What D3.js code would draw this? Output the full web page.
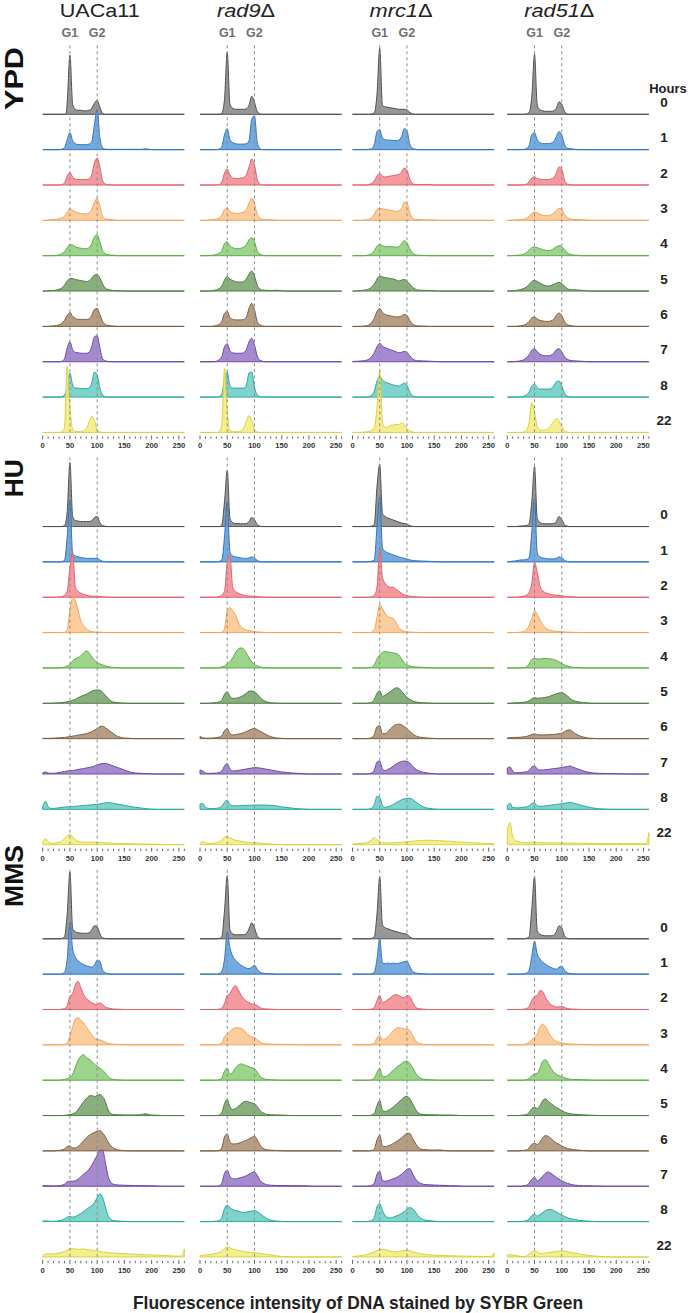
<!DOCTYPE html>
<html><head><meta charset="utf-8">
<script src="https://cdn.jsdelivr.net/npm/d3@7"></script>
<style>
html,body{margin:0;padding:0;background:#fff;}
svg{display:block;font-family:"Liberation Sans",Arial,sans-serif;}
</style></head>
<body>
<svg id="chart" width="690" height="1313"></svg>
<script>
// ---------- categories ----------
const treatments = ["YPD", "HU", "MMS"];
const strains = ["UACa11", "rad9", "mrc1", "rad51"];
const hours = ["0", "1", "2", "3", "4", "5", "6", "7", "8", "22"];
const xTicks = [0, 50, 100, 150, 200, 250];
const markers = [{label: "G1", x: 50}, {label: "G2", x: 100}];
const axisTitle = "Fluorescence intensity of DNA stained by SYBR Green";

// ---------- series: "intensity:relative cell count" per hour ----------
const ypd_UACa11 = [
"40:0 43:1 45:12 50:59 55:10 60:5 65:4 70:4 75:3.5 80:3.5 85:4 90:6 95:11 100:14 105:7 110:1 115:0",
"30:0 35:0.5 40:2 45:10 50:17 55:9 60:6 65:5 70:5 75:5 80:5 85:5.5 90:8 95:25 100:40 105:12 110:2 115:0.5 120:0.3 180:0.3 190:0.8 200:0",
"30:0 35:0.5 40:2 45:9 50:12.5 55:8 60:6 65:5.5 70:5.5 75:5.5 80:5.5 85:6 90:10 95:22 100:27 105:18 110:4 115:1 120:0.3 130:0",
"5:0 10:0.3 15:0.5 20:0.8 25:1 30:1.5 35:2.5 40:4 45:8 50:11.5 55:10 60:8.5 65:7.5 70:7 75:6.5 80:6.5 85:7.5 90:11 95:18 100:22 105:14 110:4 115:1.5 120:1 130:0.5 140:0",
"20:0 25:0.3 30:0.8 35:2 40:4 45:8 50:11 55:10.5 60:9 65:8 70:7.5 75:7 80:7 85:8 90:12 95:19 100:21 105:14 110:5 115:2 120:1 130:0.5 140:0",
"5:0 10:0.3 20:0.6 25:1 30:1.8 35:3 40:6 45:10 50:12.5 55:12.5 60:11.5 65:11 70:10.5 75:10 80:9.5 85:10 90:13 95:16 100:16.5 105:13 110:7 115:3 120:1.5 125:1 130:0.5 140:0.3 150:0",
"10:0 15:0.3 20:0.5 25:0.8 30:1.5 35:3 40:6 45:11 50:14 55:10 60:8 65:7 70:7 75:7 80:7 85:7.5 90:11 95:17 100:18 105:12 110:5 115:2 120:1 130:0.4 140:0",
"30:0 35:0.5 40:3 45:14 50:20 55:12 60:9.5 65:9 70:8.5 75:8.5 80:8.5 85:9.5 90:15 95:25 100:26 105:14 110:3 115:1 120:0.3 130:0",
"30:0 35:0.5 40:2 45:10 50:24 55:12 60:9 65:9 70:8.5 75:8.5 80:8.5 85:9 90:14 95:25 100:22 105:9 110:2 115:0.5 120:0",
"30:0 35:0.5 40:5 45:66 50:25 55:3 60:1 65:0.7 70:0.8 75:1.5 80:4 85:10 90:16.5 95:12 100:3 105:0.5 110:0"
];
const ypd_rad9 = [
"35:0 40:1 45:15 50:62 55:10 60:6 65:5 70:5 75:5 80:5 85:5.5 90:9 95:18 100:12 105:3 110:0.5 115:0",
"30:0 35:0.5 40:3 45:15 50:21 55:10 60:7 65:6 70:5.5 75:5.5 80:5.5 85:6 90:9 95:30 100:34 105:8 110:1 115:0",
"30:0 35:0.5 40:3 45:12 50:16 55:10 60:7 65:6.5 70:6.5 75:7 80:7.5 85:10 90:18 95:26 100:20 105:6 110:1 115:0",
"10:0 15:0.3 20:0.5 25:0.8 30:1.2 35:2.5 40:5 45:11 50:12.5 55:9 60:7.5 65:7 70:7 75:7.5 80:8.5 85:11 90:17 95:22 100:17 105:6 110:2 115:1 120:0.7 130:0.5 140:0.3 150:0",
"15:0 20:0.3 25:0.6 30:1.2 35:2.5 40:5 45:12 50:14 55:10 60:8 65:7 70:7 75:7.5 80:8.5 85:11 90:16 95:18 100:14 105:5 110:1.5 115:0.5 120:0",
"15:0 20:0.3 25:0.6 30:1.2 35:2.5 40:5 45:11 50:14.5 55:12 60:10.5 65:9.5 70:9 75:9 80:9.5 85:12 90:17 95:20 100:15 105:6 110:2 115:1 120:0.8 130:0.6 140:0.8 150:0.3 160:0",
"20:0 25:0.3 30:0.8 35:2 40:5 45:13 50:15 55:9 60:7 65:6.5 70:6.5 75:6.5 80:7 85:9 90:18 95:23 100:17 105:5 110:1.5 115:0.5 120:0",
"25:0 30:0.5 35:2 40:5 45:15 50:18 55:11 60:9 65:8.5 70:8.5 75:8.5 80:9 85:12 90:20 95:23.5 100:17 105:6 110:1.5 115:0.5 120:0",
"30:0 35:0.5 40:3 45:18 50:25 55:11 60:9 65:9 70:9 75:9 80:9 85:12 90:24 95:25 100:10 105:2 110:0.5 115:0",
"30:0 35:0.5 40:8 45:64 50:20 55:2 60:0.8 65:0.6 70:0.7 75:1.5 80:4 85:11 90:17 95:12 100:3 105:0.5 110:0"
];
const ypd_mrc1 = [
"30:0 35:0.3 40:1.5 45:20 50:66 55:9 60:7.5 65:7 70:6.5 75:6 80:5.5 85:5 90:5 95:5 100:4.5 105:2 110:0.5 115:0",
"25:0 30:0.3 35:1 40:5 45:18 50:20 55:12 60:10 65:9.5 70:9.5 75:9 80:9 85:9.5 90:13 95:21 100:19 105:6 110:1.5 115:0.5 120:0",
"25:0 30:0.5 35:1.5 40:4 45:9 50:11.5 55:9 60:8 65:8.5 70:9 75:9.5 80:10 85:10.5 90:13 95:17 100:15 105:6 110:1.5 115:0.5 120:0.4 140:0.6 150:0",
"15:0 20:0.3 25:0.6 30:1 35:2.5 40:6 45:11 50:12 55:11.5 60:11 65:10.5 70:10 75:9.5 80:9 85:9.5 90:12 95:18 100:17 105:8 110:2.5 115:1 120:0.7 130:0.5 140:0.4 150:0.3 160:0",
"20:0 25:0.3 30:0.8 35:2 40:5 45:9.5 50:11 55:10 60:9 65:9 70:9 75:9 80:8.5 85:9 90:12 95:15 100:13 105:7 110:3 115:1 120:0.5 130:0.3 140:0",
"5:0 10:0.3 20:0.8 25:1.2 30:2 35:4 40:7 45:12 50:15 55:14 60:13.5 65:13 70:12.5 75:12 80:11 85:10 90:11 95:11.5 100:10 105:7 110:4 115:2 120:1 130:0.7 140:0.6 150:0.3 160:0",
"15:0 20:0.3 25:0.6 30:1.5 35:4 40:8 45:15 50:18 55:14 60:12 65:11 70:10.5 75:10 80:9.5 85:9.5 90:10.5 95:12 100:11 105:6 110:2.5 115:1 120:0.5 130:0.3 140:0",
"0:0.3 10:0.5 20:1 25:1.5 30:2.5 35:5 40:9 45:15 50:18.5 55:15.5 60:14 65:13 70:12 75:11 80:10 85:9 90:9.5 95:10.3 100:9.5 105:6 110:3 115:1.5 120:1 130:0.8 140:0.6 150:0.3 160:0",
"25:0 30:0.5 35:2 40:6 45:16 50:20.5 55:17 60:15 65:14 70:13 75:12 80:11.5 85:11 90:12.5 95:14 100:12 105:5 110:1.5 115:0.5 120:0",
"15:0 20:0.3 25:0.5 30:1 35:2 40:5 45:25 50:62 55:10 60:5 65:5.5 70:7 75:7.5 80:8 85:8 90:9.5 95:8 100:4 105:1.5 110:0.5 115:0"
];
const ypd_rad51 = [
"30:0 35:0.3 40:2 45:18 50:60 55:9 60:4.5 65:3.5 70:3 75:3 80:3 85:3.5 90:6 95:12.5 100:10 105:3 110:0.5 115:0",
"25:0 30:0.3 35:1 40:4 45:15 50:17 55:10 60:7 65:6 70:6 75:6 80:6.5 85:8 90:13 95:18 100:15 105:5 110:1.5 115:1 120:0.7 125:0.3 130:0",
"25:0 30:0.3 35:1 40:3 45:7 50:8.3 55:6.5 60:6 65:5.5 70:5.5 75:5.5 80:6 85:7 90:12 95:18 100:16 105:5 110:1 115:0.3 120:0",
"5:0 10:0.3 20:0.5 25:0.8 30:1 35:2 40:4 45:7 50:8.3 55:7.5 60:6 65:5 70:4.7 75:4.7 80:5.5 85:7 90:10 95:12 100:11 105:6 110:3 115:1.5 120:1 130:0.7 140:0.6 150:0",
"5:0 10:0.2 20:0.5 25:0.8 30:1.5 35:3 40:5.5 45:8 50:8.7 55:8 60:7 65:6 70:5.5 75:5 80:5.5 85:7 90:9 95:10 100:9 105:6 110:3 115:1.5 120:0.8 130:0.4 140:0",
"5:0 10:0.3 15:0.5 20:1 25:1.5 30:2.5 35:4 40:6.5 45:9.5 50:10.7 55:9.5 60:8 65:6.5 70:5.5 75:5 80:5.5 85:6.5 90:8 95:8.7 100:7.5 105:5 110:2.5 115:1.5 120:1.2 130:1 140:0.6 150:0",
"15:0 20:0.3 25:0.6 30:1.2 35:2.5 40:5 45:8.5 50:9.3 55:7.5 60:6 65:5.5 70:5 75:5 80:5.5 85:7 90:11 95:13.3 100:11 105:5 110:2 115:1 120:0.5 130:0",
"10:0 15:0.3 20:0.5 25:1 30:2 35:4 40:7 45:11.5 50:13 55:10 60:7.5 65:6.5 70:6 75:6 80:6.5 85:8.5 90:12 95:13 100:10 105:5 110:2.5 115:1.5 120:1 130:0.7 140:0.4 150:0",
"20:0 25:0.3 30:0.8 35:2 40:5 45:11 50:13 55:9.5 60:8 65:8 70:8 75:8 80:8.5 85:11 90:15.5 95:16 100:11 105:4 110:1 115:0.3 120:0",
"25:0 30:0.5 35:2 40:10 45:30 50:20 55:6 60:2.5 65:2 70:2.5 75:4 80:7 85:11 90:14 95:12 100:6 105:1.5 110:0.3 115:0"
];
const hu_UACa11 = [
"35:0 40:1 45:15 50:64 55:10 60:6 65:5.5 70:5 75:5 80:5 85:5 90:6 95:9 100:10 105:4 110:1 115:0.3 120:0",
"30:0 35:0.3 40:1.5 45:25 50:62 55:8 60:6 65:5 70:4.5 75:4 80:3.5 85:3.5 90:3.5 95:3.5 100:4 105:2 110:0.7 115:0.3 120:0",
"25:0 30:0.3 35:0.7 40:2 45:6 50:30 55:45 60:10 65:6 70:4 75:3 80:2 85:1.5 90:1 95:1 100:1 105:0.7 110:0.5 115:0.3 120:0",
"35:0 40:0.5 45:3 50:22 55:35 60:32 65:22 70:12 75:7 80:4 85:2 90:1 95:0.7 100:0.5 110:0.3 120:0",
"30:0 35:0.3 40:0.8 45:2 50:3.5 55:7 60:9 65:10.5 70:12 75:15 80:17 85:15.5 90:11 95:8 100:5.5 105:4 110:3 115:2 120:1.3 125:0.8 130:0.5 140:0.2 150:0",
"10:0 20:0.2 30:0.5 40:1 45:1.5 50:2 55:3 60:4 65:5.5 70:7 75:8 80:9 85:10.5 90:12 95:13 100:13.3 105:13 110:11 115:8 120:5 125:2.5 130:1.2 140:0.5 150:0.2 160:0",
"0:0.3 10:0.3 20:0.5 30:0.8 40:1.2 50:2 60:3 70:4 80:5 90:7 95:8.5 100:10 105:12 110:12.5 115:11 120:9 125:7 130:5 135:3 140:1.8 145:1 150:0.6 160:0.3 170:0",
"0:1 5:2 10:1 15:0.7 20:0.7 25:1 30:1.5 35:2 40:2.5 45:3 50:3.5 55:3.5 60:4 65:4.5 70:5 75:5.5 80:6 85:6.5 90:7 95:8 100:9 105:10 110:10.5 115:10.5 120:10 125:9 130:8 135:7 140:6 145:5 150:4 155:3 160:2 165:1.5 170:1 180:0.7 190:0.4 200:0.2 210:0",
"0:3 5:8 10:3 15:1 20:1 25:1.2 30:1.5 35:2 40:2.2 45:2.5 50:2.7 55:2.8 60:3 65:3.2 70:3.5 75:3.8 80:4 85:4.3 90:4.5 95:4.8 100:5 105:5.5 110:6 115:6.5 120:6.7 125:6.5 130:6 135:5.5 140:5 145:4.5 150:4 155:3.5 160:3 165:2.5 170:2 175:1.7 180:1.4 185:1 190:0.6 195:0.4 200:0.2 210:0",
"0:2 5:6 10:3 15:1.5 20:1.5 25:2 30:2.5 35:3.5 40:6 45:9 50:10 55:8 60:5 65:3.5 70:3 75:2.5 80:2.5 90:2.5 100:2.5 110:2 120:1.8 130:1.5 140:1.3 150:1.1 160:1 170:0.8 180:0.7 190:0.6 200:0.5 210:0.4 220:0.3 240:0.2 255:0.2 260:0"
];
const hu_rad9 = [
"35:0 40:1.5 45:25 50:56 55:8 60:4 65:3 70:3 75:2.8 80:2.8 85:3 90:5 95:9 100:7 105:2 110:0.5 115:0",
"30:0 35:0.5 40:2 45:25 50:60 55:10 60:6 65:5 70:4.5 75:4 80:3.5 85:3.5 90:4 95:5 100:4 105:1.5 110:0.5 115:0",
"25:0 30:0.3 35:0.7 40:2 45:6 50:35 55:42 60:10 65:6 70:4 75:3 80:2 85:1.5 90:1.2 95:1 100:1 105:0.7 110:0.4 120:0",
"35:0 40:0.5 45:4 50:22 55:25 60:22 65:18 70:11 75:6 80:4 85:2.5 90:2 95:1.3 100:1 105:0.7 110:0.4 120:0.2 130:0",
"30:0 35:0.3 40:1 45:2 50:4 55:6.5 60:10 65:15 70:19 75:20 80:19 85:15 90:10 95:6 100:3.5 105:2 110:1 115:0.5 120:0.2 130:0",
"15:0 20:0.3 30:0.7 35:1.5 40:3 45:9 50:11.5 55:7 60:5 65:5 70:5.5 75:6.5 80:8 85:10 90:12 95:12.3 100:11.5 105:9 110:6 115:3.5 120:2 125:1 130:0.5 140:0.2 150:0",
"0:2 5:1 10:0.5 20:0.5 30:1 35:1.5 40:3 45:8 50:10 55:5 60:3.7 65:4 70:4.5 75:5 80:6 85:7 90:8.5 95:9.5 100:10.3 105:9 110:7.5 115:6 120:4.5 125:3 130:2 135:1.2 140:0.7 150:0.3 160:0",
"0:4 5:3 10:1 15:0.7 20:0.7 25:0.8 30:1 35:1.5 40:3 45:8 50:10.5 55:5 60:3 65:3.2 70:3.5 75:4 80:4.5 85:5 90:5.5 95:6 100:6.3 105:6.3 110:6 115:5.5 120:5 125:4.5 130:4 135:3.5 140:3 145:2.5 150:2 160:1.5 170:1 180:0.6 190:0.3 200:0",
"0:5 5:6 10:2 15:1 20:0.8 25:0.8 30:1 35:1.5 40:3 45:7 50:9 55:5 60:3.5 65:3.5 70:3.5 75:3.8 80:4 90:4 95:4.2 100:4.3 120:4.3 125:4.2 130:4 135:3.8 140:3.5 145:3 150:2.5 160:1.8 170:1.2 180:0.6 190:0.3 200:0",
"0:1.5 5:3 10:2 15:1 20:1 25:1.5 30:2 35:3 40:5 45:7.5 50:8 55:7 60:5.5 65:4.5 70:4 75:3.5 80:3 85:2.5 90:2.2 95:2 100:2 110:1.5 120:1 130:0.6 140:0.3 150:0.2 160:0"
];
const hu_mrc1 = [
"30:0 35:0.5 40:2 45:40 50:62 55:13 60:10 65:8.5 70:7.5 75:6.5 80:5.5 85:4.5 90:3.5 95:3 100:2.5 105:1 110:0.3 115:0",
"25:0 30:0.3 35:0.7 40:2 45:35 50:65 55:14 60:10.5 65:9 70:8 75:7 80:6 85:5 90:4.2 95:3.5 100:2.8 105:2 110:1.5 115:1.2 120:1 130:0.8 140:0.6 150:0.3 160:0",
"30:0 35:0.5 40:2 45:10 50:50 55:20 60:14 65:11 70:10 75:10 80:8 85:6 90:4 95:2.5 100:2 105:1 110:0.5 120:0.3 130:0",
"30:0 35:0.5 40:3 45:15 50:28 55:24 60:19 65:16 70:15 75:14 80:10 85:5 90:2.5 95:1.3 100:0.8 110:0.4 120:0.2 130:0",
"25:0 30:0.3 35:0.8 40:3 45:9 50:13 55:15.5 60:16.3 65:16 70:15.5 75:15 80:14.5 85:13 90:9 95:5 100:3 105:2 110:1.3 115:1 120:0.8 130:0.5 140:0.2 150:0",
"25:0 30:0.3 35:1 40:4 45:10 50:12.5 55:7 60:8 65:10 70:12 75:14 80:15.5 85:15 90:12 95:9 100:6 105:4 110:2.5 115:1.5 120:1 130:0.6 140:0.3 150:0",
"25:0 30:0.3 35:1 40:4 45:12 50:13 55:5 60:5 65:7 70:10 75:12.5 80:14 85:14.5 90:14 95:12 100:10 105:7.5 110:5 115:3 120:2 125:1.3 130:1 140:0.5 150:0.2 160:0",
"25:0 30:0.3 35:1 40:4 45:12 50:13 55:5 60:3.5 65:4.5 70:6 75:8 80:10 85:11.5 90:12.5 95:13 100:12.5 105:11 110:8 115:5.5 120:3.5 125:2.5 130:1.7 140:0.8 150:0.3 160:0",
"25:0 30:0.3 35:1 40:5 45:13 50:12 55:4 60:2 65:2.5 70:3.5 75:5 80:6.5 85:8 90:9.5 95:10.5 100:11 105:11 110:10 115:8 120:6 125:4 130:2.5 135:1.5 140:1 150:0.3 160:0",
"0:0.5 10:1 20:1.5 25:2 30:3 35:5 40:7 45:5 50:3 55:2 60:1.8 70:1.8 80:2 90:2.5 100:3 110:3.5 120:4 130:4.3 140:4.5 150:4.3 160:4 170:3.7 180:3.4 190:3 200:2.7 210:2.4 220:2 230:1.7 240:1.4 250:1.2 260:1"
];
const hu_rad51 = [
"15:0 20:0.3 30:0.7 35:1 40:3 45:25 50:60 55:8 60:4 65:3 70:2.7 75:2.7 80:2.7 85:3 90:5 95:10 100:7 105:2 110:0.5 115:0",
"0:0 5:0.3 10:0.7 15:1 20:1.5 25:2 30:2 35:2.5 40:4 45:30 50:63 55:9 60:5 65:4 70:3.5 75:3 80:3 85:3 90:3.5 95:5 100:4.5 105:1.5 110:0.5 115:0",
"15:0 20:0.3 25:0.6 30:1 35:2 40:5 45:14 50:35 55:25 60:11 65:6.5 70:4.5 75:3.5 80:2.8 85:2.3 90:2 95:1.7 100:1.5 105:1 110:0.5 120:0.3 130:0",
"15:0 20:0.2 25:0.5 30:1 35:3 40:7 45:14 50:22 55:18 60:13 65:8 70:5 75:3 80:2 85:1.5 90:1.2 95:1 100:0.8 110:0.5 120:0.3 130:0.2 140:0",
"25:0 30:0.3 35:1 40:4 45:8.5 50:9.7 55:9 60:9 65:9.3 70:9.5 75:9.2 80:9 85:8.5 90:7.5 95:6 100:4.5 105:3 110:2 115:1.2 120:0.7 130:0.3 140:0",
"5:0 10:0.3 20:0.5 25:0.8 30:1 35:1.5 40:2.5 45:4.5 50:5.7 55:5 60:5.2 65:5.5 70:6 75:6.5 80:7.5 85:8.5 90:9.5 95:10.3 100:10.7 105:9.5 110:7.5 115:5 120:3 125:2 130:1.5 135:1 140:0.8 145:0.5 150:0.2 160:0",
"0:0.7 5:1 10:1.2 15:1.2 20:1.3 25:1.5 30:1.8 35:2.2 40:3 45:4.2 50:4.7 55:4 60:3.7 65:3.7 70:3.8 75:4 80:4 85:4.2 90:4.5 95:5 100:5.5 105:7 110:8.5 115:8.7 120:7 125:5 130:3.5 135:2.3 140:1.5 145:1 150:0.5 160:0.2 170:0",
"0:6 5:7 10:3 15:1.3 20:1.3 25:1.5 30:1.8 35:2.3 40:3.5 45:7 50:8 55:5 60:4 65:4 70:4.3 75:4.5 80:5 85:5.3 90:5.7 95:6 100:6.5 105:7 110:7.5 115:8 120:7 125:6 130:5 135:4 140:3 145:2.3 150:1.6 155:1.2 160:0.9 170:0.6 180:0.5 190:0.4 200:0.3 210:0.2 220:0",
"0:4 5:6 10:2 15:1.5 20:1.5 25:1.7 30:2 35:2.5 40:3.5 45:6 50:6.5 55:3.5 60:3 65:3.2 70:3.5 75:3.8 80:4.2 85:4.5 90:5 95:5.3 100:5.7 105:6 110:6.5 115:7 120:6.5 125:5.8 130:5 135:4.2 140:3.5 145:2.8 150:2.2 155:1.6 160:1.2 165:0.8 170:0.5 180:0.2 190:0",
"0:15 5:22 10:8 15:4 20:3 25:2.5 30:2.2 40:2 45:2.5 50:3 55:2.3 60:2 80:1.8 100:1.6 120:1.5 140:1.4 160:1.3 180:1.2 200:1.1 220:1 240:1 255:1 260:12"
];
const mms_UACa11 = [
"30:0 35:0.3 40:2 45:25 50:67 55:10 60:7 65:6 70:5.7 75:5.5 80:5.5 85:6 90:9 95:13 100:12 105:5 110:1 115:0.3 120:0",
"30:0 35:0.3 40:2 45:15 50:52 55:25 60:17 65:13.5 70:11 75:9.5 80:8.5 85:7.5 90:7 95:9 100:14 105:13 110:4 115:1.5 120:0.5 130:0",
"30:0 35:0.3 40:1 45:4 50:13 55:16 60:25 65:28 70:22 75:15 80:11 85:8.5 90:7 95:5.5 100:5 105:6.7 110:5 115:2.5 120:1.5 125:1 130:0.5 140:0.3 150:0",
"35:0 40:0.5 45:2 50:9 55:18 60:26 65:27 70:25 75:22 80:18 85:14 90:10 95:7 100:5.5 105:5 110:4 115:2.5 120:1.5 125:1 130:0.7 140:0.4 150:0.3 160:0",
"30:0 35:0.3 40:0.8 45:1.5 50:3 55:6 60:13 65:20 70:24 75:25.5 80:23 85:21 90:19 95:16 100:14 105:12 110:10 115:7 120:3.5 125:1.5 130:0.7 140:0.3 150:0",
"35:0 40:0.3 45:0.5 50:1 55:1.7 60:3 65:6 70:10 75:14 80:17 85:19.5 90:20 95:19 100:20 105:21 110:19 115:14 120:6 125:2 130:1 140:0.7 150:0.6 170:0.6 180:0.8 185:1.5 190:1.7 195:0.8 200:0.5 210:0.3 220:0",
"20:0 25:0.3 30:0.5 35:1 40:2 45:4.5 50:5 55:3 60:3 65:4.5 70:7 75:10 80:13 85:15.5 90:17 95:18.5 100:19.5 105:20.3 110:18 115:14 120:9 125:5 130:3 135:1.5 140:0.8 145:0.5 150:0.2 160:0",
"0:0.5 10:0.5 20:0.3 30:0.5 35:1 40:2 45:4.5 50:5 55:5 60:5.5 65:7 70:9.5 75:12 80:14 85:17 90:21 95:26 100:31 105:36 110:36 115:24 120:10 125:4 130:2 135:1.5 140:1.2 150:1 160:0.8 170:0.7 180:0.6 190:0.5 200:0.4 210:0.3 220:0",
"0:0.5 5:0.8 10:0.5 15:0.3 20:0.3 25:0.5 30:0.8 35:1.5 40:2.5 45:4.5 50:5 55:4.5 60:5 65:6.5 70:8 75:10 80:12 85:14 90:16 95:19 100:24 105:27.7 110:24 115:15 120:6 125:2.5 130:1 140:0.5 150:0.3 160:0",
"0:1 5:3 10:3.3 15:3 20:3.2 25:3.5 30:4 35:4.5 40:5.5 45:7 50:8 55:8.3 60:8 65:7.5 70:7.8 75:8 80:7.5 85:7 90:6.8 95:6.5 100:6 105:5.5 110:5 115:4.7 120:4.3 125:4 130:3.8 140:3.5 150:3.2 160:3 170:2.7 180:2.5 190:2.2 200:2 210:1.8 220:1.5 230:1.2 240:1 250:0.8 255:1 260:8"
];
const mms_rad9 = [
"30:0 35:0.3 40:2 45:28 50:63 55:9 60:5 65:4 70:4 75:4 80:4 85:5 90:10 95:16 100:11 105:3 110:0.5 115:0",
"30:0 35:0.5 40:3 45:15 50:42 55:26 60:18 65:14 70:11.5 75:9 80:7.5 85:6 90:5.5 95:7 100:9 105:5 110:2 115:1 120:0.6 130:0.3 140:0",
"30:0 35:0.3 40:1.5 45:6 50:14 55:16 60:21 65:24 70:20 75:15 80:11 85:8.5 90:7 95:5.5 100:5 105:4 110:2 115:1 120:0.6 130:0.3 140:0",
"30:0 35:0.5 40:2 45:8 50:10.5 55:13 60:16 65:17 70:17 75:16.5 80:15 85:12 90:9.5 95:8 100:7.3 105:5 110:3 115:1.5 120:1 130:0.7 140:0.6 150:0.5 160:0.4 170:0.3 180:0.2 190:0",
"30:0 35:0.5 40:2 45:9 50:12 55:6 60:8 65:12 70:15 75:16.3 80:15.5 85:14.5 90:13.5 95:12.5 100:11.5 105:8 110:4 115:2 120:1 130:0.5 140:0.2 150:0",
"30:0 35:0.5 40:3 45:12 50:16 55:9 60:6 65:7 70:9 75:11.5 80:13.5 85:14.3 90:13.5 95:12.5 100:12 105:9 110:5 115:3 120:1.5 125:1 130:0.8 140:0.6 150:0.5 160:0.2 170:0",
"30:0 35:0.5 40:3 45:14 50:17 55:9 60:7 65:7 70:7.5 75:8.5 80:9.5 85:10.5 90:12 95:13.5 100:15 105:11 110:6 115:3 120:1.5 125:1 130:0.7 140:0.4 150:0.2 160:0",
"30:0 35:0.5 40:3 45:13 50:16 55:10 60:7.5 65:7.3 70:8 75:8.5 80:9.5 85:10.5 90:12 95:13.5 100:14.3 105:11 110:6 115:3.5 120:2 125:1.3 130:1 140:0.8 150:0.7 170:0.6 190:0.5 200:0.3 210:0",
"20:0 25:0.3 30:0.5 35:1 40:4 45:13 50:16.5 55:14 60:12 65:11 70:10.5 75:9.5 80:9 85:9.5 90:10 95:10.5 100:11 105:10 110:8 115:6 120:4 125:2.5 130:1.5 140:0.6 150:0.2 160:0",
"0:1 5:1.5 10:2 15:2.3 20:2.5 25:3 30:3.5 35:4.5 40:6 45:8.5 50:10 55:9 60:8 65:7.2 70:6.5 75:6 80:5.5 85:5 90:4.8 95:4.5 100:4.3 105:4 110:3.6 115:3.2 120:2.8 125:2.5 130:2 135:1.6 140:1.2 145:0.8 150:0.5 160:0.2 170:0"
];
const mms_mrc1 = [
"30:0 35:0.5 40:2 45:25 50:62 55:14 60:11 65:10 70:9 75:8 80:7.3 85:6.5 90:5.7 95:5 100:4.7 105:2 110:0.5 115:0",
"30:0 35:0.5 40:2 45:15 50:36 55:11 60:10.5 65:11 70:10.5 75:11 80:10.5 85:11 90:11.5 95:12.5 100:12.7 105:8 110:3 115:1.5 120:0.8 130:0.3 140:0",
"30:0 35:0.5 40:2 45:9 50:14 55:7 60:8 65:10 70:12 75:14 80:15 85:14 90:12.5 95:12 100:14 105:13 110:8 115:3 120:1 130:0.4 140:0",
"30:0 35:0.5 40:2 45:7 50:9.5 55:5 60:6 65:8 70:11 75:14 80:16.5 85:17.3 90:16.5 95:16 100:15.5 105:14.5 110:10 115:5 120:2 125:1 130:0.5 140:0.2 150:0",
"30:0 35:0.5 40:2 45:8 50:12 55:4 60:3.5 65:5 70:7.5 75:10 80:12.5 85:14.5 90:16.5 95:18.5 100:19 105:17 110:13 115:8 120:4 125:2 130:1 140:0.5 150:0.2 160:0",
"30:0 35:0.5 40:2 45:10 50:15 55:5 60:4 65:5 70:6.5 75:8.5 80:11 85:13.5 90:16 95:18.5 100:19.3 105:17 110:12 115:7 120:3 125:1.5 130:1 140:0.8 150:0.7 160:0.6 170:0.5 180:0.5 190:0.3 200:0",
"30:0 35:0.5 40:2 45:11 50:16 55:5 60:4.3 65:5 70:6 75:7.5 80:9 85:11 90:13 95:15.5 100:17.5 105:17.5 110:13 115:8 120:4 125:2 130:1.3 140:1 150:0.8 160:1 170:0.3 180:0",
"25:0 30:0.3 35:1 40:3 45:12 50:15 55:6 60:5 65:5.5 70:6.5 75:7.5 80:8.5 85:10 90:12 95:14.5 100:17 105:17.7 110:13 115:8 120:4.5 125:3 130:2 140:1.5 150:1.2 160:1 170:0.8 180:0.6 190:0.4 200:0.2 210:0",
"25:0 30:0.3 35:1 40:4 45:15 50:18 55:11 60:6 65:4 70:3.5 75:4.5 80:5.5 85:6.5 90:8 95:10 100:12.5 105:14 110:13 115:10 120:6 125:3.5 130:2 140:1 150:0.4 160:0",
"0:0.5 10:1 15:1.3 20:1.7 25:2.3 30:3 35:4 40:5 45:6.5 50:7.3 55:7.7 60:7.3 65:6.5 70:5.8 75:5.3 80:5 85:5.3 90:6 95:6.5 100:6.7 105:6.3 110:5.5 115:4.5 120:3.8 125:3.2 130:2.8 140:2.2 150:1.8 160:1.5 170:1.3 180:1.2 190:1 200:0.9 210:0.8 220:0.7 230:0.6 240:0.5 250:0.5 255:0.8 260:4"
];
const mms_rad51 = [
"30:0 35:0.5 40:2 45:30 50:62 55:8 60:4.5 65:3.5 70:3 75:3 80:3 85:3.5 90:7 95:13 100:11 105:3 110:0.5 115:0",
"25:0 30:0.3 35:1 40:4 45:18 50:33 55:20 60:15 65:12 70:10 75:8 80:6.7 85:5.5 90:5 95:7 100:8 105:4 110:1.5 115:0.7 120:0.3 130:0",
"25:0 30:0.3 35:1 40:3 45:9 50:13 55:14 60:19 65:18 70:12 75:8 80:5 85:3.5 90:2.5 95:2.5 100:3.2 105:2 110:1 115:0.6 120:0.4 130:0.2 140:0",
"25:0 30:0.3 35:1 40:2.5 45:5 50:7.5 55:11 60:18 65:20.7 70:18.5 75:13 80:8.5 85:5.5 90:3.5 95:2.5 100:2 105:1.5 110:1 120:0.7 130:0.5 140:0.4 150:0.2 160:0",
"30:0 35:0.5 40:1.5 45:4.5 50:6.3 55:7 60:12 65:19 70:20.5 75:17 80:12 85:8.5 90:6 95:4.5 100:3.5 105:2.5 110:1.5 115:1 120:0.8 130:0.6 140:0.5 150:0.2 160:0",
"20:0 25:0.3 30:0.5 35:1 40:3 45:7 50:8.3 55:7 60:10 65:15 70:16.7 75:14.5 80:12 85:10 90:8 95:6.5 100:5 105:3.5 110:2.5 115:1.8 120:1.5 130:1 140:0.7 150:0.4 160:0.2 170:0",
"20:0 25:0.3 30:0.5 35:1 40:3 45:6.5 50:7.5 55:6.5 60:9 65:13 70:15.3 75:14.5 80:12.5 85:10 90:8 95:6.5 100:5 105:3.5 110:2.5 115:1.8 120:1.3 130:0.8 140:0.4 150:0",
"25:0 30:0.5 35:1 40:3 45:7 50:9 55:5.5 60:7 65:10 70:13 75:14.3 80:13 85:11 90:9 95:7 100:5.5 105:4 110:3 115:2.2 120:1.5 130:0.8 140:0.5 150:0.4 160:0.3 170:0.2 180:0",
"25:0 30:0.3 35:1 40:2.5 45:6 50:7.3 55:5.5 60:7 65:9 70:11 75:12 80:12.3 85:11 90:9.5 95:8 100:6.5 105:5 110:4 115:3 120:2.5 125:2 130:1.5 140:0.8 150:0.4 160:0.2 170:0",
"0:2 5:2.3 10:2 15:1.5 20:1 25:0.5 30:0.3 35:1 40:3 45:5 50:6 55:5 60:3.5 65:3.5 70:3.8 75:4.2 80:4.7 85:5.2 90:5.6 95:5.8 100:6 105:5.8 110:5.3 115:4.8 120:4.2 125:3.7 130:3.2 140:2.3 150:1.5 160:1 170:0.6 180:0.3 190:0"
];

const panelData = [
  [ypd_UACa11, ypd_rad9, ypd_mrc1, ypd_rad51],
  [hu_UACa11, hu_rad9, hu_mrc1, hu_rad51],
  [mms_UACa11, mms_rad9, mms_mrc1, mms_rad51]
];

// ---------- layout & style ----------
const strokeCol = ["#4f4f4f","#2f72bd","#e0626b","#f2a55e","#5aab48","#4d7d43","#7d5d3f","#6b4aa3","#2ba7a0","#d9d042"];
const fillCol   = ["#858585","#5b9bd9","#f3878f","#fdc38c","#8ccd77","#76a169","#a88b6d","#9676c8","#69cbc4","#f3eb7b"];
const colX0 = [42.7, 200, 352.5, 507.3];
const plotW = 141.6;
const panelTop = 114.3, panelStep = 412.25, rowStep = 35.35;

const svg = d3.select("#chart");
svg.append("rect").attr("width",690).attr("height",1313).attr("fill","#fff");

const hScale = d3.scaleLinear().domain([0, 70]).range([0, 70]);

function parse(s){
  const pts = s.trim().split(/\s+/).map(p => p.split(":").map(Number));
  if (pts[0][0] > 0) pts.unshift([0, 0]);
  if (pts[pts.length-1][0] < 260) pts.push([260, 0]);
  return pts;
}

treatments.forEach((t, p) => {
  const base0 = panelTop + p * panelStep;
  const base22 = base0 + 9 * rowStep;
  const g = svg.append("g");
  strains.forEach((s, c) => {
    const x = d3.scaleLinear().domain([0, 260]).range([colX0[c], colX0[c] + plotW]);
    panelData[p][c].forEach((str, r) => {
      const b = base0 + r * rowStep;
      const area = d3.area().x(d => x(d[0])).y0(b).y1(d => b - hScale(d[1])).curve(d3.curveMonotoneX);
      g.append("path").attr("d", area(parse(str)))
        .attr("fill", fillCol[r]).attr("fill-opacity", 0.85)
        .attr("stroke", strokeCol[r]).attr("stroke-width", 1).attr("stroke-linejoin","round");
    });
    // dashed G1/G2 lines
    markers.forEach(m => {
      g.append("line").attr("x1", x(m.x)).attr("x2", x(m.x))
        .attr("y1", base0 - 69).attr("y2", base22 + 2)
        .attr("stroke", "#8c8c8c").attr("stroke-width", 1).attr("stroke-dasharray", "3,3");
    });
    // ticks
    d3.range(0, 261, 10).forEach(v => {
      const major = v % 50 === 0;
      g.append("line").attr("x1", x(v)).attr("x2", x(v))
        .attr("y1", base22 + (major ? 3 : 4)).attr("y2", base22 + (major ? 7 : 6.3))
        .attr("stroke", "#555").attr("stroke-width", 0.9);
    });
    xTicks.forEach(v => {
      g.append("text").attr("x", x(v)).attr("y", base22 + 15.8)
        .attr("text-anchor", "middle").attr("font-size", 7.6).attr("font-weight", "bold")
        .attr("fill", "#333").text(v);
    });
    if (p === 0) {
      markers.forEach(m => {
        g.append("text").attr("x", x(m.x)).attr("y", 36.5)
          .attr("text-anchor", "middle").attr("font-size", 12.5).attr("font-weight", "bold")
          .attr("fill", "#707070").text(m.label);
      });
    }
  });
  // panel label
  const L = [63, 38, 62][p];
  const top = [47, 47 + panelStep, 845][p];
  svg.append("text").attr("transform", `translate(22.5,${top}) rotate(-90)`)
    .attr("text-anchor", "end").attr("font-size", 25).attr("font-weight", "bold")
    .attr("fill", "#111").attr("textLength", L).attr("lengthAdjust", "spacingAndGlyphs").text(t);
  // hour labels
  hours.forEach((h, r) => {
    svg.append("text").attr("x", 664).attr("y", base0 + r * rowStep - 7.3)
      .attr("text-anchor", "middle").attr("font-size", 13.5).attr("font-weight", "bold")
      .attr("fill", "#222").text(h);
  });
});
svg.append("text").attr("x", 668).attr("y", 93).attr("text-anchor", "middle")
  .attr("font-size", 13).attr("font-weight", "bold").attr("fill", "#222").text("Hours");

// strain titles
const titleLen = [80, 58, 63, 70];
strains.forEach((s, c) => {
  const t = svg.append("text").attr("x", colX0[c] + 17).attr("y", 16.5)
    .attr("font-size", 18).attr("fill", "#222")
    .attr("textLength", titleLen[c]).attr("lengthAdjust", "spacingAndGlyphs");
  if (c === 0) t.text(s);
  else {
    t.append("tspan").attr("font-style", "italic").text(s);
    t.append("tspan").text("\u0394");
  }
});

// x-axis title
svg.append("text").attr("x", 358).attr("y", 1309).attr("text-anchor", "middle")
  .attr("font-size", 18.5).attr("font-weight", "bold").attr("fill", "#222")
  .attr("textLength", 450).attr("lengthAdjust", "spacingAndGlyphs").text(axisTitle);
</script>
</body></html>
